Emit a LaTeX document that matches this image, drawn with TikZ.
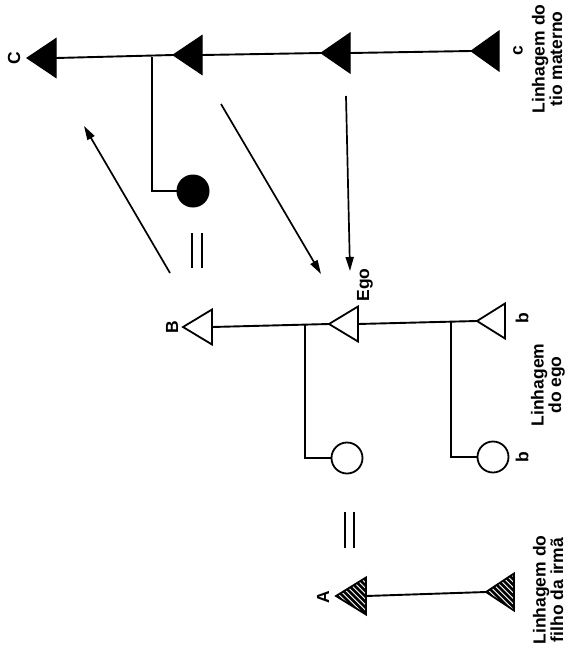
\documentclass[tikz,border=0pt]{standalone}
\usepackage{fontspec}
\setmainfont{Liberation Sans}
\usetikzlibrary{arrows.meta}
% #1 name, #2 x apex, #3 y apex, #4 width, #5 half height, #6 style
\newcommand\kintri[6]{%
  \coordinate (#1) at (#2,#3);
  \coordinate (#1-b) at (#2+#4,#3);
  \path[#6] (#1) -- ++(#4,-#5) -- ++(0,2*#5) -- cycle;
}
\newcommand\hatchtri[5]{%
  \coordinate (#1) at (#2,#3);
  \coordinate (#1-b) at (#2+#4,#3);
  \begin{scope}
    \clip (#1) -- ++(#4,-#5) -- ++(0,2*#5) -- cycle;
    \foreach \k in {-48,-42.5,...,48}
      \draw[line width=2.6pt] (#2+\k-25,#3-25) -- ++(50,50);
  \end{scope}
  \path[triopen,fill=none] (#1) -- ++(#4,-#5) -- ++(0,2*#5) -- cycle;
}
\begin{document}
\begin{tikzpicture}[x=1pt,y=-1pt,
  line/.style={line width=1.9pt},
  trifull/.style={fill=black,draw=black,line width=1pt,line join=miter},
  triopen/.style={draw=black,line width=1.8pt,fill=white,line join=miter},
  lab/.style={rotate=90,font=\bfseries\fontsize{17.5}{17.5}\selectfont,inner sep=0pt},
  eqbar/.style={line width=1.9pt},
  arr/.style={line width=1.7pt,-{Triangle[length=14pt,width=8pt]}},
  dotf/.style={circle,fill=black,draw=black,line width=1pt,minimum size=32pt,inner sep=0pt},
  doto/.style={circle,fill=white,draw=black,line width=1.8pt,minimum size=31pt,inner sep=0pt}
]
\useasboundingbox (0,0) rectangle (568,657);
\clip (0,0) rectangle (568,657);

% --- lineage of the maternal uncle (top)
\kintri{C}{27}{58}{29}{19.5}{trifull}
\kintri{T2}{173}{55}{29}{19.5}{trifull}
\kintri{T3}{321}{53}{29}{20}{trifull}
\kintri{T4}{471}{51}{28}{20}{trifull}
\draw[line] (C-b) -- (T2);
\draw[line] (T2-b) -- (T3);
\draw[line] (T3-b) -- (T4);
\coordinate (j1) at (152,56.5);
\node[dotf] (m1) at (193,191) {};
\draw[line] (j1) |- (m1);

% --- ego's lineage (middle)
\kintri{B}{183}{327}{29}{17.5}{triopen}
\kintri{E}{329}{324}{29}{17.5}{triopen}
\kintri{b1}{477}{321}{28}{17.5}{triopen}
\draw[line] (B-b) -- (E);
\draw[line] (E-b) -- (b1);
\coordinate (j2) at (305,325);
\coordinate (j3) at (451,322);
\node[doto] (m2) at (347,458) {};
\node[doto] (m3) at (493,457) {};
\draw[line] (j2) |- (m2);
\draw[line] (j3) |- (m3);

% --- lineage of the sister's son (bottom)
\hatchtri{A}{336}{596}{30}{18.5}
\hatchtri{A2}{486}{592}{28}{18.5}
\draw[line] (A-b) -- (A2);

% --- arrows
\coordinate (a1s) at (170,273);
\coordinate (a1e) at (84,126);
\coordinate (a2s) at (221,104);
\coordinate (a2e) at (321,274);
\coordinate (a3s) at (346,96);
\coordinate (a3e) at (350,271);
\draw[arr] (a1s) -- (a1e);
\draw[arr] (a2s) -- (a2e);
\draw[arr] (a3s) -- (a3e);

% --- equals signs
\draw[eqbar] (192,233) -- (192,268);
\draw[eqbar] (202,233) -- (202,268);
\draw[eqbar] (345,512) -- (345,548);
\draw[eqbar] (354,512) -- (354,548);

% --- labels
\node[lab] (lC) at (14,58) {C};
\node[lab] (lc) at (518,51) {c};
\node[lab,align=center] (lt1) at (547,59) {Linhagem do\\tio materno};
\node[lab] (lB) at (172,327) {B};
\node[lab] (lEgo) at (365,285) {Ego};
\node[lab] (lb1) at (522,318) {b};
\node[lab] (lb2) at (522,457) {b};
\node[lab,align=center] (lt2) at (548,385) {Linhagem\\do ego};
\node[lab] (lA) at (323,597) {A};
\node[lab,align=center] (lt3) at (548,590) {Linhagem do\\filho da irmã};
\end{tikzpicture}
\end{document}
